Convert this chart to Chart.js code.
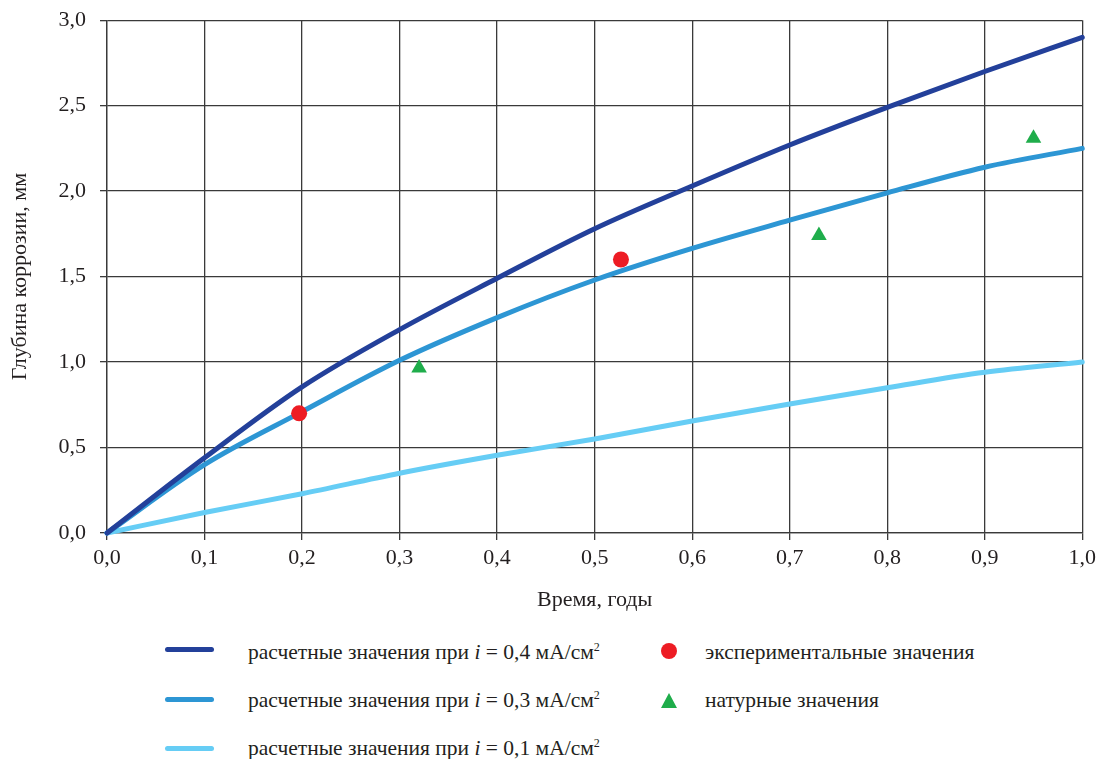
<!DOCTYPE html>
<html>
<head>
<meta charset="utf-8">
<script src="https://cdn.jsdelivr.net/npm/chart.js@4/dist/chart.umd.min.js"></script>
<style>
  body { margin: 0; background: #fff; }
  #wrap { position: relative; width: 1098px; height: 759px; overflow: hidden; }
  #chart { position: absolute; left: 0; top: -7px; }
  .leg { position: absolute; font-family: "Liberation Serif", "Times New Roman", serif; font-size: 21.5px; line-height: 24px; color: #231f20; white-space: nowrap; }
  .swatch { position: absolute; left: 165px; width: 49px; height: 5px; border-radius: 3px; }
  .dot { position: absolute; left: 661px; width: 16px; height: 16px; border-radius: 50%; background: #ed1c24; }
  .tri { position: absolute; left: 661px; width: 0; height: 0; border-left: 8px solid transparent; border-right: 8px solid transparent; border-bottom: 15px solid #1fad4b; }
  sup { font-size: 12px; vertical-align: 8px; line-height: 0; }
</style>
</head>
<body>
<div id="wrap">
  <canvas id="chart" width="1101" height="627"></canvas>

  <div class="swatch" style="top:647px; background:#23409a;"></div>
  <div class="leg" style="left:248px; top:640px;">расчетные значения при <i>i</i> = 0,4 мА/см<sup>2</sup></div>
  <div class="swatch" style="top:697px; background:#2d96d4;"></div>
  <div class="leg" style="left:248px; top:688px;">расчетные значения при <i>i</i> = 0,3 мА/см<sup>2</sup></div>
  <div class="swatch" style="top:746px; background:#66cdf5;"></div>
  <div class="leg" style="left:248px; top:736px;">расчетные значения при <i>i</i> = 0,1 мА/см<sup>2</sup></div>

  <div class="dot" style="top:643px;"></div>
  <div class="leg" style="left:705px; top:640px;">экспериментальные значения</div>
  <div class="tri" style="top:693px;"></div>
  <div class="leg" style="left:705px; top:688px;">натурные значения</div>
</div>

<script>
// time axis, years
const years = [0, 0.1, 0.2, 0.3, 0.4, 0.5, 0.6, 0.7, 0.8, 0.9, 1.0];

// calculated corrosion depth, mm, for each current density
const depth04 = [0, 0.44, 0.855, 1.19, 1.49, 1.78, 2.03, 2.27, 2.49, 2.70, 2.90];
const depth03 = [0, 0.40, 0.71, 1.01, 1.26, 1.48, 1.665, 1.83, 1.99, 2.14, 2.25];
const depth01 = [0, 0.12, 0.23, 0.35, 0.455, 0.55, 0.655, 0.755, 0.85, 0.94, 1.00];

// measured points
const expYears = [0.197, 0.527];
const expDepth = [0.70, 1.60];
const fieldYears = [0.32, 0.73, 0.95];
const fieldDepth = [0.965, 1.74, 2.31];

const toPoints = (xs, ys) => xs.map((x, i) => ({ x: x, y: ys[i] }));
const comma = v => Number(v).toFixed(1).replace('.', ',');

function lineSet(data, color, order) {
    return {
        data: toPoints(years, data),
        showLine: true,
        borderColor: color,
        borderWidth: 5,
        pointRadius: 0,
        cubicInterpolationMode: 'monotone',
        borderCapStyle: 'round',
        borderJoinStyle: 'round',
        clip: false,
        order: order
    };
}

const family = '"Liberation Serif", "Times New Roman", serif';
const font = { family: family, size: 22 };
const textColor = '#231f20';
const gridColor = '#3a3a3a';

function draw() {
    new Chart(document.getElementById('chart'), {
        type: 'scatter',
        data: {
            datasets: [
                {
                    data: toPoints(expYears, expDepth),
                    pointStyle: 'circle',
                    pointRadius: 8,
                    backgroundColor: '#ed1c24',
                    borderWidth: 0,
                    order: 0
                },
                {
                    data: toPoints(fieldYears, fieldDepth),
                    pointStyle: 'triangle',
                    pointRadius: 9,
                    backgroundColor: '#1fad4b',
                    borderWidth: 0,
                    order: 1
                },
                lineSet(depth04, '#23409a', 2),
                lineSet(depth03, '#2d96d4', 3),
                lineSet(depth01, '#66cdf5', 4)
            ]
        },
        options: {
            responsive: false,
            animation: false,
            layout: { padding: { top: 13, right: 0, left: 0, bottom: 0 } },
            plugins: {
                legend: { display: false },
                tooltip: { enabled: false }
            },
            scales: {
                x: {
                    type: 'linear',
                    min: 0,
                    max: 1,
                    afterFit: s => { s.height = 87; },
                    ticks: { stepSize: 0.1, callback: comma, color: textColor, font: font, padding: 5 },
                    grid: { color: gridColor, lineWidth: 1.3, tickLength: 7 },
                    border: { color: gridColor, width: 1.3 },
                    title: { display: true, text: 'Время, годы', color: textColor, font: font, padding: { top: 0, bottom: 7 } }
                },
                y: {
                    min: 0,
                    max: 3,
                    afterFit: s => { s.width = 107; },
                    ticks: { stepSize: 0.5, callback: comma, color: textColor, font: font, padding: 14 },
                    grid: { color: gridColor, lineWidth: 1.3, tickLength: 7 },
                    border: { color: gridColor, width: 1.3 },
                    title: { display: true, text: 'Глубина коррозии, мм', color: textColor, font: font, padding: { top: 7, bottom: 0 } }
                }
            }
        }
    });
}

document.fonts.load('22px "Liberation Serif"').then(draw, draw);
</script>
</body>
</html>
